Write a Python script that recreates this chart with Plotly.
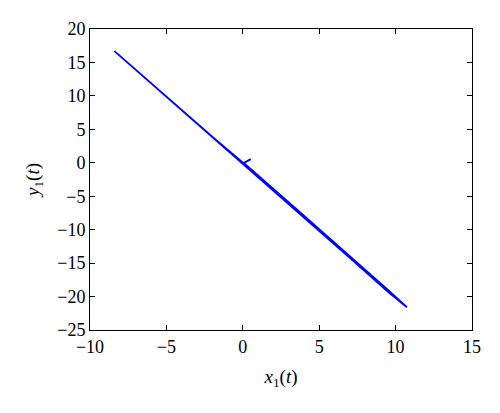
import plotly.graph_objects as go

# trajectory points
x1 = [0.52, 0.30, 0.05, -2.0, -5.0, -8.4, -5.0, -1.0, 3.0, 7.0, 9.5, 10.74, 9.5, 7.0, 4.0, 1.0, 0.0]
y1 = [0.55, 0.30, -0.05, 3.9, 9.9, 16.7, 9.9, 1.9, -6.1, -14.2, -19.3, -21.6, -19.0, -13.9, -7.9, -1.9, 0.1]

x_ticks = [-10, -5, 0, 5, 10, 15]
y_ticks = [-25, -20, -15, -10, -5, 0, 5, 10, 15, 20]

font_family = "Liberation Serif, DejaVu Serif, serif"

fig = go.Figure()
fig.add_trace(go.Scatter(x=x1, y=y1, mode="lines",
                         line=dict(color="#0000FF", width=1.8), showlegend=False))

axis_common = dict(
    showgrid=False, zeroline=False, showline=True, linecolor="black", linewidth=1,
    mirror="ticks", ticks="inside", ticklen=5, tickcolor="black", tickwidth=1,
    tickfont=dict(family=font_family, size=18, color="black"),
)

fig.update_layout(
    width=492, height=405,
    margin=dict(l=82, r=28, t=21, b=83),
    plot_bgcolor="white", paper_bgcolor="white",
    xaxis=dict(range=[-10, 15], tickvals=x_ticks,
               title=dict(text="<i>x</i><sub>1</sub>(<i>t</i>)",
                          font=dict(family=font_family, size=19, color="black"),
                          standoff=14),
               **axis_common),
    yaxis=dict(range=[-25, 20], tickvals=y_ticks,
               title=dict(text="<i>y</i><sub>1</sub>(<i>t</i>)",
                          font=dict(family=font_family, size=19, color="black"),
                          standoff=12),
               **axis_common),
)

fig.write_html("out.html")
